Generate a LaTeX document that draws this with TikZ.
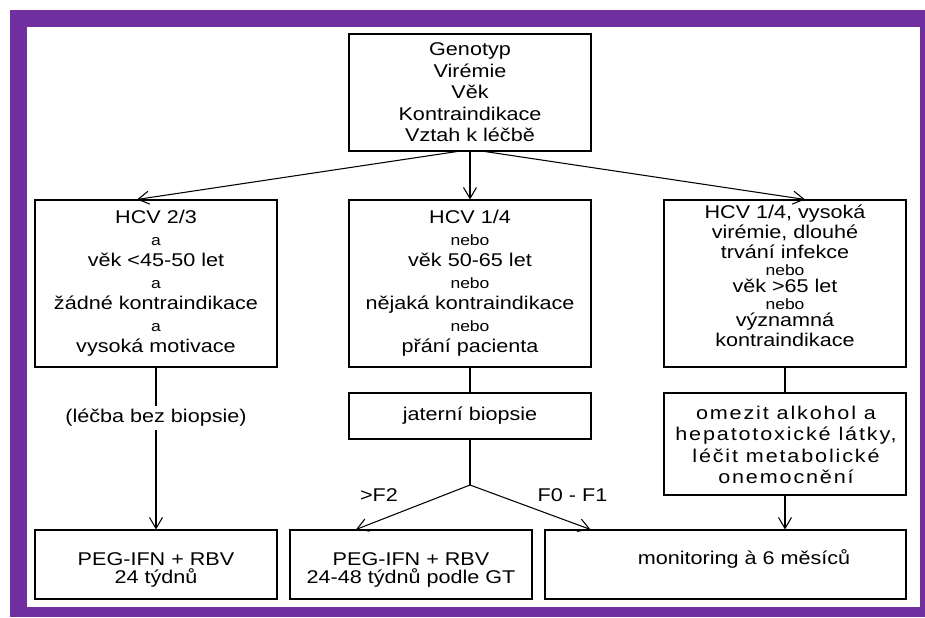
\documentclass[tikz,border=0pt]{standalone}
\usepackage{fontspec}
\setmainfont{Liberation Sans}[FakeStretch=1.17]
\usetikzlibrary{arrows.meta}
\definecolor{framepurple}{RGB}{112,48,160}
\tikzset{
	box/.style={shape=rectangle, draw, line width=0.6pt},
	txt/.style={anchor=center, align=center, inner sep=0pt, font=\fontsize{10.5}{12.2}\selectfont},
	wire/.style={line width=0.6pt},
	flow/.style={wire, -{Straight Barb[length=2.2mm, width=2.6mm]}},
}
\newcommand{\conj}[1]{{\fontsize{8.5}{12.2}\selectfont #1}}
\begin{document}
\begin{tikzpicture}
	% Frame:
	\useasboundingbox (0,0) rectangle (18.5,12.34);
	\fill[framepurple] (0.2,0) rectangle (18.5,12.14);
	\fill[white] (0.54,0.2) rectangle (18.4,11.8);
	% Paths, nodes and wires:
	\node[box, minimum width=4.84cm, minimum height=2.34cm] (top) at (9.4, 10.49){} node[txt] (toptext) at (9.4, 10.49){Genotyp\\Virémie\\Věk\\Kontraindikace\\Vztah k léčbě};
	\node[box, minimum width=4.84cm, minimum height=3.34cm] (hcvA) at (3.12, 6.67){} node[txt] (hcvAtext) at (3.12, 6.67){HCV 2/3\\\conj{a}\\věk <45-50 let\\\conj{a}\\žádné kontraindikace\\\conj{a}\\vysoká motivace};
	\node[box, minimum width=4.84cm, minimum height=3.34cm] (hcvB) at (9.4, 6.67){} node[txt] (hcvBtext) at (9.4, 6.67){HCV 1/4\\\conj{nebo}\\věk 50-65 let\\\conj{nebo}\\nějaká kontraindikace\\\conj{nebo}\\přání pacienta};
	\node[box, minimum width=4.84cm, minimum height=3.34cm] (hcvC) at (15.7, 6.67){} node[txt, font=\fontsize{10.5}{11.4}\selectfont] (hcvCtext) at (15.7, 6.82){HCV 1/4, vysoká\\virémie, dlouhé\\trvání infekce\\[-1.7pt]\conj{nebo}\\[-1.7pt]věk >65 let\\[-1.7pt]\conj{nebo}\\[-1.7pt]významná\\kontraindikace};
	\node[box, minimum width=4.84cm, minimum height=0.92cm] (biopsy) at (9.4, 4.02){} node[txt] (biopsytext) at (9.4, 4.02){jaterní biopsie};
	\node[box, minimum width=4.84cm, minimum height=2.04cm] (care) at (15.7, 3.46){} node[txt, font=\fontsize{10.5}{12.2}\selectfont\addfontfeatures{LetterSpace=10}] (caretext) at (15.72, 3.44){omezit alkohol a\\hepatotoxické látky,\\léčit metabolické\\onemocnění};
	\node[box, minimum width=4.84cm, minimum height=1.38cm] (pegA) at (3.12, 1.05){} node[txt] (pegAtext) at (3.12, 0.94){PEG-IFN + RBV\\[-2.2pt]24 týdnů};
	\node[box, minimum width=4.84cm, minimum height=1.38cm] (pegB) at (8.22, 1.05){} node[txt] (pegBtext) at (8.22, 0.94){PEG-IFN + RBV\\[-2.2pt]24-48 týdnů podle GT};
	\node[box, minimum width=7.22cm, minimum height=1.38cm] (monit) at (14.51, 1.05){} node[txt] (monittext) at (14.88, 1.16){monitoring à 6 měsíců};
	\coordinate (split) at (9.4, 2.64);
	\node[txt] (nofib) at (7.58, 2.44){>F2};
	\node[txt] (lowfib) at (11.45, 2.44){F0 - F1};
	\draw[flow] ([xshift=-0.26cm]top.south) -- ([xshift=-0.38cm]hcvA.north);
	\draw[flow] (top) -- (hcvB);
	\draw[flow] ([xshift=0.3cm]top.south) -- ([xshift=0.4cm]hcvC.north);
	\draw[flow] (hcvA) -- node[txt, pos=0.31, fill=white, inner sep=2pt] (nobiopsy){(léčba bez biopsie)} (pegA);
	\draw[wire] (hcvB) -- (biopsy);
	\draw[wire] (biopsy.south) -- (split);
	\draw[flow] (split) -- ([xshift=-1.1cm]pegB.north);
	\draw[flow] (split) -- ([xshift=0.92cm]monit.north west);
	\draw[wire] (hcvC) -- (care);
	\draw[flow] (care.south) -- (care.south |- monit.north);
\end{tikzpicture}
\end{document}
